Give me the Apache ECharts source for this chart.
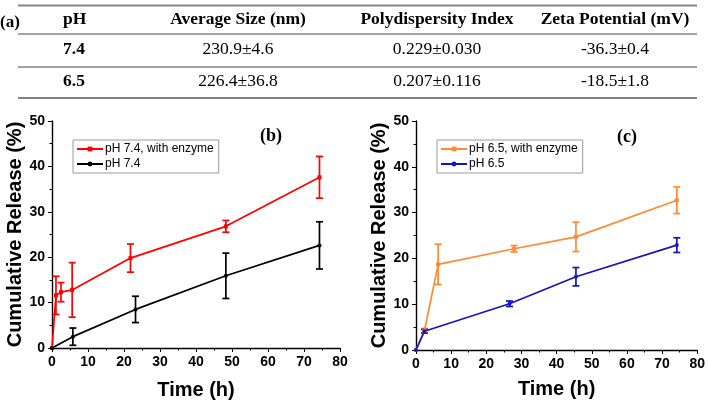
<!DOCTYPE html>
<html>
<head>
<meta charset="utf-8">
<script src="https://cdn.jsdelivr.net/npm/echarts@6/dist/echarts.min.js"></script>
<style>
  html, body { margin: 0; padding: 0; background: #fff; }
  #main { width: 708px; height: 405px; }
</style>
</head>
<body>
<div id="main"></div>
<script>
// table (a)
const tableHeaders = ["pH", "Average Size (nm)", "Polydispersity Index", "Zeta Potential (mV)"];
const tableRows = [
  ["7.4", "230.9±4.6", "0.229±0.030", "-36.3±0.4"],
  ["6.5", "226.4±36.8", "0.207±0.116", "-18.5±1.8"]
];

// panel (b)
const redTime = [0, 1.1, 2.5, 5.6, 21.8, 48.3, 74.3];
const redRelease = [0, 11.6, 12.3, 12.8, 19.8, 26.8, 37.6];
const redErr = [0, 4.2, 2.1, 6.0, 3.1, 1.3, 4.6];
const blackTime = [0, 5.8, 23.2, 48.3, 74.3];
const blackRelease = [0, 2.5, 8.5, 15.9, 22.6];
const blackErr = [0, 1.9, 2.9, 5.0, 5.2];

// panel (c)
const orangeTime = [0, 2.4, 6.3, 27.9, 45.5, 74.2];
const orangeRelease = [0, 4.2, 18.7, 22.1, 24.7, 32.7];
const orangeErr = [0, 0.5, 4.4, 0.7, 3.2, 2.9];
const blueTime = [0, 2.4, 26.6, 45.5, 74.2];
const blueRelease = [0, 4.1, 10.1, 16.0, 22.9];
const blueErr = [0, 0.4, 0.6, 2.0, 1.6];

const SANS = "Liberation Sans";
const SERIF = "Liberation Serif";

function pts(t, v) { return t.map((x, i) => [x, v[i]]); }
function errPts(t, v, e) { return t.map((x, i) => [x, v[i], e[i]]); }

function errorBars(name, idx, color, t, v, e) {
  return {
    name: name,
    type: "custom",
    xAxisIndex: idx,
    yAxisIndex: idx,
    z: 3,
    silent: true,
    encode: { x: 0, y: 1 },
    data: errPts(t, v, e),
    renderItem: function (params, api) {
      const x = api.value(0), y = api.value(1), err = api.value(2);
      if (!err) return null;
      const hi = api.coord([x, y + err]);
      const lo = api.coord([x, y - err]);
      const w = 3.5;
      const st = { stroke: color, lineWidth: 1.7 };
      return {
        type: "group",
        children: [
          { type: "line", shape: { x1: hi[0], y1: hi[1], x2: lo[0], y2: lo[1] }, style: st },
          { type: "line", shape: { x1: hi[0] - w, y1: hi[1], x2: hi[0] + w, y2: hi[1] }, style: st },
          { type: "line", shape: { x1: lo[0] - w, y1: lo[1], x2: lo[0] + w, y2: lo[1] }, style: st }
        ]
      };
    }
  };
}

function lineSeries(name, idx, color, symbol, t, v) {
  return {
    name: name,
    type: "line",
    xAxisIndex: idx,
    yAxisIndex: idx,
    z: 4,
    data: pts(t, v),
    symbol: symbol,
    symbolSize: 4,
    showSymbol: true,
    itemStyle: { color: color },
    lineStyle: { color: color, width: 1.7 },
    emphasis: { disabled: true }
  };
}

function xAxis(idx, gap) {
  return {
    type: "value",
    gridIndex: idx,
    min: 0, max: 80, interval: 10,
    name: "Time (h)",
    nameLocation: "middle",
    nameGap: gap,
    nameTextStyle: { fontFamily: SANS, fontWeight: "bold", fontSize: 20, color: "#000" },
    axisLine: { show: true, lineStyle: { color: "#000", width: 1.4 } },
    axisTick: { show: true, inside: false, length: 4, lineStyle: { color: "#000", width: 1 } },
    minorTick: { show: true, splitNumber: 2, length: 2.5, lineStyle: { color: "#000", width: 1 } },
    splitLine: { show: false },
    axisLabel: { margin: 7, fontFamily: SANS, fontWeight: "bold", fontSize: 14, color: "#000" }
  };
}

function yAxis(idx, gap) {
  return {
    type: "value",
    gridIndex: idx,
    min: 0, max: 50, interval: 10,
    name: "Cumulative Release (%)",
    nameLocation: "middle",
    nameGap: gap,
    nameTextStyle: { fontFamily: SANS, fontWeight: "bold", fontSize: 20, color: "#000" },
    axisLine: { show: true, lineStyle: { color: "#000", width: 1.4 } },
    axisTick: { show: true, inside: false, length: 4, lineStyle: { color: "#000", width: 1 } },
    minorTick: { show: true, splitNumber: 2, length: 2.5, lineStyle: { color: "#000", width: 1 } },
    splitLine: { show: false },
    axisLabel: { margin: 7, fontFamily: SANS, fontWeight: "bold", fontSize: 14, color: "#000" }
  };
}

// table drawn as graphic elements
const colX = [63, 238, 437, 615];
const rowY = [19, 49, 81];
const ruleY = [5.5, 34, 67, 98];
const tableGraphics = [];
ruleY.forEach((y, i) => {
  tableGraphics.push({
    type: "line",
    shape: { x1: 18, y1: y, x2: 697, y2: y },
    style: { stroke: "#858585", lineWidth: (i === 0 || i === ruleY.length - 1) ? 2.2 : 1.6 }
  });
});
tableGraphics.push({
  type: "text", x: 0, y: 23,
  style: { text: "(a)", font: "bold 17px " + SERIF, fill: "#000", textVerticalAlign: "middle" }
});
[tableHeaders].concat(tableRows).forEach((row, r) => {
  row.forEach((cell, c) => {
    const bold = r === 0 || c === 0;
    tableGraphics.push({
      type: "text",
      x: colX[c], y: rowY[r],
      style: {
        text: cell,
        font: (bold ? "bold " : "") + "17.5px " + SERIF,
        fill: "#000",
        textAlign: c === 0 ? "left" : "center",
        textVerticalAlign: "middle"
      }
    });
  });
});
// panel labels
tableGraphics.push({
  type: "text", x: 271, y: 136,
  style: { text: "(b)", font: "bold 18px " + SERIF, fill: "#000", textAlign: "center", textVerticalAlign: "middle" }
});
tableGraphics.push({
  type: "text", x: 627, y: 137,
  style: { text: "(c)", font: "bold 18px " + SERIF, fill: "#000", textAlign: "center", textVerticalAlign: "middle" }
});

const legendBase = {
  orient: "vertical",
  itemWidth: 26,
  itemHeight: 6,
  itemGap: 3,
  padding: [3, 5, 3, 3],
  borderColor: "#9a9a9a",
  borderWidth: 1,
  textStyle: { fontFamily: SANS, fontSize: 12, color: "#000", padding: [0, 0, 0, -3] }
};

const chart = echarts.init(document.getElementById("main"), null, { renderer: "canvas" });
chart.setOption({
  animation: false,
  backgroundColor: "#fff",
  graphic: tableGraphics,
  legend: [
    Object.assign({}, legendBase, { left: 73, top: 140, data: ["pH 7.4, with enzyme", "pH 7.4"] }),
    Object.assign({}, legendBase, { left: 437, top: 140, data: ["pH 6.5, with enzyme", "pH 6.5"] })
  ],
  grid: [
    { left: 52, top: 121, width: 288, height: 232 },
    { left: 416, top: 121, width: 283.5, height: 229 }
  ],
  xAxis: [xAxis(0, 32), xAxis(1, 29)],
  yAxis: [yAxis(0, 25), yAxis(1, 22)],
  series: [
    lineSeries("pH 7.4, with enzyme", 0, "#ff0000", "rect", redTime, redRelease),
    errorBars("err-red", 0, "#ff0000", redTime, redRelease, redErr),
    lineSeries("pH 7.4", 0, "#000000", "circle", blackTime, blackRelease),
    errorBars("err-black", 0, "#000000", blackTime, blackRelease, blackErr),
    lineSeries("pH 6.5, with enzyme", 1, "#ff8a33", "rect", orangeTime, orangeRelease),
    errorBars("err-orange", 1, "#ff8a33", orangeTime, orangeRelease, orangeErr),
    lineSeries("pH 6.5", 1, "#1414c4", "circle", blueTime, blueRelease),
    errorBars("err-blue", 1, "#1414c4", blueTime, blueRelease, blueErr)
  ]
});
</script>
</body>
</html>
